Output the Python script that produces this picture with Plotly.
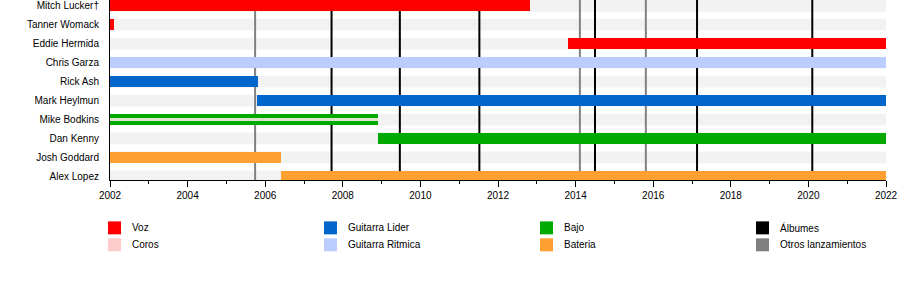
import plotly.graph_objects as go

# ---- data ----
members = ["Mitch Lucker†", "Tanner Womack", "Eddie Hermida", "Chris Garza", "Rick Ash",
           "Mark Heylmun", "Mike Bodkins", "Dan Kenny", "Josh Goddard", "Alex Lopez"]
# (member, role, start, end)
bar_member = ["Mitch Lucker†", "Tanner Womack", "Eddie Hermida", "Chris Garza", "Rick Ash",
              "Mark Heylmun", "Mike Bodkins", "Dan Kenny", "Josh Goddard", "Alex Lopez"]
bar_role = ["Voz", "Voz", "Voz", "Guitarra Ritmica", "Guitarra Lider",
            "Guitarra Lider", "Bajo", "Bajo", "Bateria", "Bateria"]
bar_start = [2002.0, 2002.0, 2013.8, 2002.0, 2002.0, 2005.8, 2002.0, 2008.91, 2002.0, 2006.41]
bar_end = [2012.82, 2002.1, 2022.0, 2022.0, 2005.81, 2022.0, 2008.91, 2022.0, 2006.41, 2022.0]

# secondary (backing vocals) stripes
sec_member = ["Mike Bodkins"]
sec_start = [2002.0]
sec_end = [2008.91]

albums = [2007.71, 2009.47, 2011.52, 2014.5, 2017.13, 2020.1]
other_releases = [2005.74, 2014.11, 2015.81]

legend_labels = ["Voz", "Coros", "Guitarra Lider", "Guitarra Ritmica", "Bajo", "Bateria",
                 "Álbumes", "Otros lanzamientos"]

colors = {
    "Voz": "#ff0000",
    "Coros": "#ffcccc",
    "Guitarra Lider": "#0066cc",
    "Guitarra Ritmica": "#bbccff",
    "Bajo": "#00aa00",
    "Bateria": "#ffa030",
    "Álbumes": "#000000",
    "Otros lanzamientos": "#808080",
}
coros_on_green = "#dde6c4"

X0, X1 = 2002, 2022
Y_BOTTOM, Y_TOP = 9.19, -0.305
FONT = "Liberation Sans, Arial, sans-serif"

ypos = {m: i for i, m in enumerate(members)}

fig = go.Figure()

# colored bars by role
for role in ["Voz", "Guitarra Lider", "Guitarra Ritmica", "Bajo", "Bateria"]:
    idx = [i for i, r in enumerate(bar_role) if r == role]
    fig.add_trace(go.Bar(
        orientation="h",
        y=[ypos[bar_member[i]] for i in idx],
        base=[bar_start[i] for i in idx],
        x=[bar_end[i] - bar_start[i] for i in idx],
        width=0.58,
        marker=dict(color=colors[role], line=dict(width=0)),
        name=role, showlegend=False, hoverinfo="skip",
    ))

fig.add_trace(go.Bar(
    orientation="h",
    y=[ypos[m] for m in sec_member],
    base=sec_start,
    x=[e - s for s, e in zip(sec_start, sec_end)],
    width=0.2,
    marker=dict(color=coros_on_green, line=dict(width=0)),
    name="Coros", showlegend=False, hoverinfo="skip",
))

shapes = []
# background stripes
for m in members:
    y = ypos[m]
    shapes.append(dict(type="rect", xref="x", yref="y", x0=X0, x1=X1, y0=y - 0.31, y1=y + 0.31,
                       fillcolor="#f2f2f2", line=dict(width=0), layer="below"))
# release lines
for xv in other_releases:
    shapes.append(dict(type="line", xref="x", yref="y", x0=xv, x1=xv, y0=Y_BOTTOM, y1=Y_TOP,
                       line=dict(color=colors["Otros lanzamientos"], width=2), layer="below"))
for xv in albums:
    shapes.append(dict(type="line", xref="x", yref="y", x0=xv, x1=xv, y0=Y_BOTTOM, y1=Y_TOP,
                       line=dict(color=colors["Álbumes"], width=2), layer="below"))

# legend (manual, 4 columns x 2 rows)
L, R, PH = 110, 886, 180.5
def px2x(px):
    return (px - L) / (R - L)
def py2y(py):
    return (PH - py) / PH

annotations = []
col_x = [108, 324, 540, 756]
row_y = [228.5, 245.5]
for k, lab in enumerate(legend_labels):
    c, r = k // 2, k % 2
    sx = col_x[c]
    cy = row_y[r]
    shapes.append(dict(type="rect", xref="paper", yref="paper",
                       x0=px2x(sx), x1=px2x(sx + 13), y0=py2y(cy + 6.5), y1=py2y(cy - 6.5),
                       fillcolor=colors[lab], line=dict(width=0)))
    annotations.append(dict(xref="paper", yref="paper", x=px2x(sx + 22), y=py2y(cy),
                            text=lab, showarrow=False, xanchor="left", yanchor="middle",
                            font=dict(family=FONT, size=10, color="#000000")))

fig.update_layout(
    width=900, height=300,
    margin=dict(l=110, r=14, t=0, b=119.5, pad=0),
    paper_bgcolor="white", plot_bgcolor="white",
    barmode="overlay",
    bargap=0,
    showlegend=False,
    shapes=shapes,
    annotations=annotations,
    font=dict(family=FONT, size=10, color="#000000"),
    xaxis=dict(
        range=[X0, X1], showgrid=False, zeroline=False,
        showline=True, linecolor="black", linewidth=1,
        ticks="outside", ticklen=6, tickwidth=1, tickcolor="black",
        dtick=2, tick0=2002, tickformat="d",
        minor=dict(dtick=1, ticks="outside", ticklen=3, tickcolor="black", showgrid=False),
        tickfont=dict(family=FONT, size=10, color="#000000"),
    ),
    yaxis=dict(
        range=[Y_BOTTOM, Y_TOP], showgrid=False, zeroline=False,
        showline=True, linecolor="black", linewidth=1,
        tickvals=list(range(len(members))), ticktext=members,
        ticks="", ticklabelstandoff=8,
        tickfont=dict(family=FONT, size=10, color="#000000"),
    ),
)

fig.write_html("out.html")
